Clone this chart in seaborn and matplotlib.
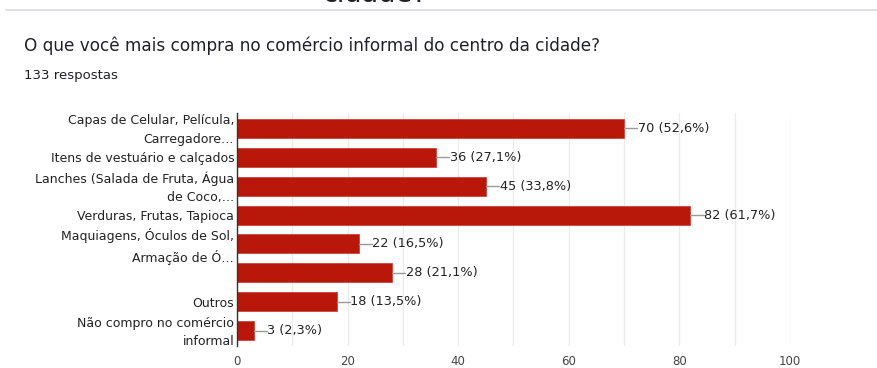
import matplotlib
matplotlib.use("Agg")
import matplotlib.pyplot as plt
import matplotlib.transforms as mtransforms
import seaborn as sns
import pandas as pd

categories = [
    "Capas de Celular, Película,\nCarregadore…",
    "Itens de vestuário e calçados",
    "Lanches (Salada de Fruta, Água\nde Coco,…",
    "Verduras, Frutas, Tapioca",
    "Maquiagens, Óculos de Sol,\nArmação de Ó…",
    "",
    "Outros",
    "Não compro no comércio\ninformal",
]
counts = [70, 36, 45, 82, 22, 28, 18, 3]
total_responses = 133
x_ticks = [0, 20, 40, 60, 80, 100]

title = "O que você mais compra no comércio informal do centro da cidade?"
subtitle = f"{total_responses} respostas"

sns.set_theme(style="white")
plt.rcParams["font.family"] = ["DejaVu Sans"]

df = pd.DataFrame({"opcao": categories, "respostas": counts})

fig = plt.figure(figsize=(8.78, 3.68), dpi=100)
ax = fig.add_axes([237 / 878, 1 - 346 / 368, (790 - 237) / 878, (346 - 113) / 368])

sns.barplot(data=df, x="respostas", y="opcao", order=categories,
            color="#b8170a", saturation=1, width=0.655, ax=ax,
            edgecolor="#c9453a", linewidth=0.6)

ax.set_xlim(0, 100)
ax.set_ylim(len(categories) - 0.48, -0.52)
ax.set_xticks(x_ticks)
ax.set_xticks(range(10, 100, 20), minor=True)
ax.grid(axis="x", which="both", color="#ebebeb", linewidth=1)
ax.set_axisbelow(True)
ax.tick_params(axis="both", which="both", length=0)
ax.tick_params(axis="x", labelsize=8.5, labelcolor="#444444", pad=6.5)
ax.tick_params(axis="y", labelsize=9, labelcolor="#222222", pad=2)

# two-line category labels sit slightly above the bar centre
lift = mtransforms.ScaledTranslation(0, 2.5 / 100, fig.dpi_scale_trans)
for lbl in ax.get_yticklabels():
    lbl.set_linespacing(1.55)
    if "\n" in lbl.get_text():
        lbl.set_transform(lbl.get_transform() + lift)

ax.set_xlabel("")
ax.set_ylabel("")
for side in ["top", "right", "bottom"]:
    ax.spines[side].set_visible(False)
ax.spines["left"].set_color("#333333")
ax.spines["left"].set_linewidth(1)

# value labels with a short leader line
for i, v in enumerate(counts):
    pct = v / total_responses * 100
    text = f"{v} ({pct:.1f}%)".replace(".", ",")
    ax.plot([v, v + 2.4], [i, i], color="#9a9a9a", linewidth=1, zorder=3)
    ax.text(v + 2.5, i, text, va="center", ha="left", fontsize=9.3,
            color="#222222")

# page header: tail of the previous question, separator, question and count
fig.text(375 / 878, 1 - 2.5 / 368, "cidade?", ha="center", va="baseline",
         fontsize=19.5, color="#202124")
fig.add_artist(plt.Line2D([6 / 878, 1.0], [1 - 9.5 / 368] * 2,
                          color="#dadce0", linewidth=1.2))
fig.text(24 / 878, 1 - 46 / 368, title, ha="left", va="center",
         fontsize=12.2, color="#202124")
fig.text(24 / 878, 1 - 76 / 368, subtitle, ha="left", va="center",
         fontsize=9.5, color="#202124")

fig.savefig("out.png", dpi=100, facecolor="white")
